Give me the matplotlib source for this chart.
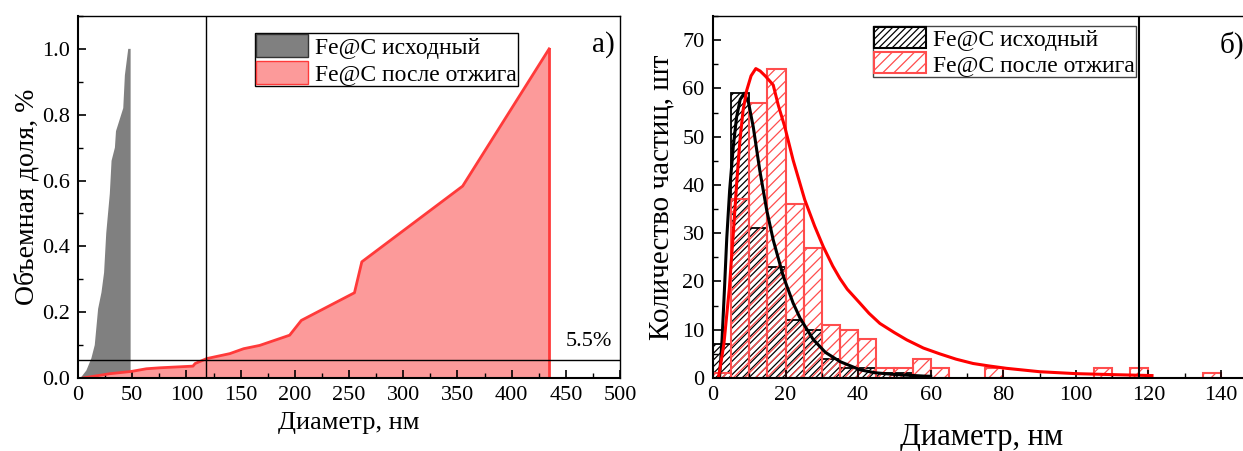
import numpy as np
import matplotlib
matplotlib.use('Agg')
import matplotlib.pyplot as plt
from matplotlib.patches import Patch
from matplotlib.ticker import MultipleLocator

plt.rcParams['font.family'] = ['Liberation Serif', 'DejaVu Serif']
plt.rcParams['hatch.linewidth'] = 0.9

# --- а) накопленная объемная доля ---
d_init = [0, 3, 7.7, 12.3, 15.4, 18.5, 21.6, 24, 26, 29.3, 30.9, 34, 35, 41.7, 43.2, 46.3, 48.5, 48.5]
v_init = [0, 0.003, 0.023, 0.06, 0.10, 0.21, 0.26, 0.32, 0.44, 0.56, 0.66, 0.70, 0.75, 0.82, 0.92, 1.0, 1.0, 0]

d_ann = [4.6, 29.3, 49.4, 63, 75.6, 106, 108, 118.8, 140, 152.8, 167.6, 195.2, 206, 255, 261.8, 354.8, 434.6, 434.6]
v_ann = [0, 0.013, 0.02, 0.028, 0.031, 0.036, 0.044, 0.059, 0.074, 0.089, 0.099, 0.13, 0.175, 0.259, 0.353, 0.583, 1.0, 0]

level = 0.055      # 5.5 %
d_level = 118

# --- б) гистограммы (шаг 5 нм) ---
bin_w = 5
bins_init = [0, 5, 10, 15, 20, 25, 30, 35, 40, 45, 50]
cnt_init = [7, 59, 31, 23, 12, 10, 4, 2, 2, 1, 1]
bins_ann = [0, 5, 10, 15, 20, 25, 30, 35, 40, 45, 50, 55, 60, 75, 105, 115, 135]
cnt_ann = [1, 37, 57, 64, 36, 27, 11, 10, 8, 2, 2, 4, 2, 2, 2, 2, 1]

# аппроксимирующие кривые
fit_x_init = [1.8, 2.5, 3.2, 3.8, 4.6, 5.6, 6.5, 7.5, 8.6, 9.8, 11.1, 12.9, 14.8, 16.6, 19.4,
              22.1, 24, 27.6, 31, 35, 40.5, 44.5, 48.8, 53, 58, 60]
fit_y_init = [0, 8, 19, 29, 39, 48, 54, 57.7, 59, 57, 52, 43, 34.8, 28.6, 21,
              15.5, 12.4, 8, 5.3, 3.4, 1.7, 1.1, 0.8, 0.6, 0.4, 0.35]
fit_x_ann = [1.5, 3, 4.5, 5.6, 6.5, 7.4, 8.3, 9.3, 10.5, 11.8, 13, 14.5, 16.6, 18, 19.8, 22.1,
             25.3, 28, 30.4, 33, 35, 37, 40.5, 43, 46, 50, 53.4, 58, 62.5, 67, 71.7, 76,
             80.9, 90, 100, 110, 121]
fit_y_ann = [0, 7, 18.5, 30, 40, 49, 55.5, 59.6, 62.6, 64.1, 63.6, 62.5, 60.7, 56.5, 52, 45.1,
             36.9, 31.5, 27.2, 23.2, 20.6, 18.4, 15.5, 13.4, 11.3, 9.4, 7.9, 6.2, 5.0, 3.9, 3.0, 2.5,
             2.0, 1.3, 0.9, 0.7, 0.5]

lbl_init = 'Fe@C исходный'
lbl_ann = 'Fe@C после отжига'

fig = plt.figure(figsize=(12.43, 4.51), dpi=100)
ax1 = fig.add_axes([0.0628, 0.1619, 0.436, 0.8027])
ax2 = fig.add_axes([0.5736, 0.1619, 0.432, 0.8027])

# а)
ax1.fill(d_init, v_init, color='#808080', lw=0)
ax1.fill(d_ann, v_ann, facecolor='#fc9a9a', edgecolor='none')
ax1.plot(d_ann[:-1], v_ann[:-1], color='#ff3a3a', lw=2)
ax1.plot([d_ann[-1], d_ann[-1]], [0, v_ann[-2]], color='#ff3a3a', lw=2)
ax1.axhline(level, color='black', lw=1)
ax1.axvline(d_level, color='black', lw=1)
ax1.text(493, 0.112, '5.5%', ha='right', va='center', fontsize=16)
ax1.text(0.99, 0.92, 'а)', transform=ax1.transAxes, ha='right', va='center', fontsize=21)

ax1.set_xlim(0, 500)
ax1.set_ylim(0, 1.1)
ax1.xaxis.set_major_locator(MultipleLocator(50))
ax1.xaxis.set_minor_locator(MultipleLocator(25))
ax1.yaxis.set_minor_locator(MultipleLocator(0.1))
ax1.set_yticks([0, 0.2, 0.4, 0.6, 0.8, 1.0])
ax1.set_xlabel('Диаметр, нм', fontsize=19, labelpad=5)
ax1.set_ylabel('Объемная доля, %', fontsize=20, labelpad=2)

h1 = [Patch(facecolor='#808080', edgecolor='#333333', lw=1),
      Patch(facecolor='#fc9a9a', edgecolor='#ff3a3a', lw=1)]
leg1 = ax1.legend(h1, [lbl_init, lbl_ann], loc='upper left', bbox_to_anchor=(0.327, 0.953),
                  borderaxespad=0, fontsize=17, handlelength=2.2, handleheight=1.1,
                  labelspacing=0.1, handletextpad=0.3, borderpad=0.05, fancybox=False,
                  framealpha=1, edgecolor='black')
leg1.get_frame().set_linewidth(1)

# б)
ax2.bar(bins_init, cnt_init, width=bin_w, align='edge', facecolor='none',
        edgecolor='black', lw=1.3, hatch='/////')
ax2.bar(bins_ann, cnt_ann, width=bin_w, align='edge', facecolor='none',
        edgecolor='#ff4d4d', lw=1.5, hatch='///')
ax2.plot(fit_x_init, fit_y_init, color='black', lw=2.2)
ax2.plot(fit_x_ann, fit_y_ann, color='red', lw=2.2)
ax2.axvline(117.5, color='black', lw=1.5)
ax2.text(0.944, 0.92, 'б)', transform=ax2.transAxes, ha='left', va='center', fontsize=21)

ax2.set_xlim(0, 148)
ax2.set_ylim(0, 75)
ax2.xaxis.set_major_locator(MultipleLocator(20))
ax2.xaxis.set_minor_locator(MultipleLocator(10))
ax2.yaxis.set_major_locator(MultipleLocator(10))
ax2.yaxis.set_minor_locator(MultipleLocator(5))
ax2.set_xlabel('Диаметр, нм', fontsize=22, labelpad=13)
ax2.set_ylabel('Количество частиц, шт', fontsize=21, labelpad=6)

h2 = [Patch(facecolor='white', edgecolor='black', lw=1.5, hatch='/////'),
      Patch(facecolor='white', edgecolor='#ff4d4d', lw=1.5, hatch='///')]
leg2 = ax2.legend(h2, [lbl_init, lbl_ann], loc='upper left', bbox_to_anchor=(0.298, 0.972),
                  borderaxespad=0, fontsize=17, handlelength=2.2, handleheight=1.0,
                  labelspacing=0.05, handletextpad=0.3, borderpad=0.05, fancybox=False,
                  framealpha=1, edgecolor='#444444')
leg2.get_frame().set_linewidth(1)

for ax in (ax1, ax2):
    ax.tick_params(which='both', direction='in', top=False, right=False, labelsize=16, pad=6)
    ax.tick_params(which='major', length=6, width=1.2)
    ax.tick_params(which='minor', length=3.5, width=1)
    ax.spines['left'].set_linewidth(1.5)
    ax.spines['bottom'].set_linewidth(1.5)
    ax.spines['top'].set_linewidth(1)
    ax.spines['right'].set_linewidth(1)

fig.savefig('out.png', dpi=100)
